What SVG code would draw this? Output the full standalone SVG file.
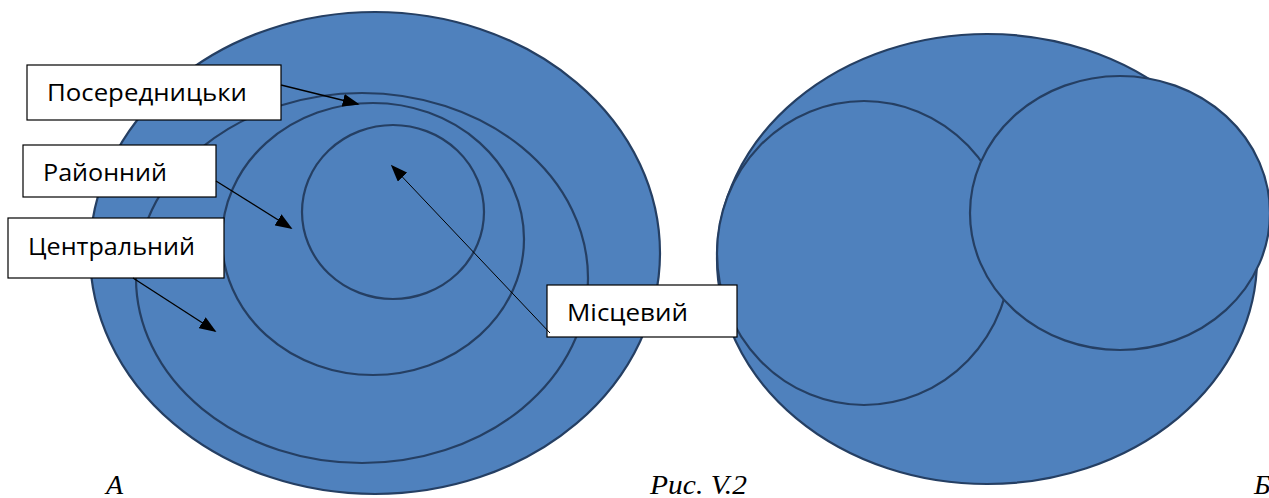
<svg xmlns="http://www.w3.org/2000/svg" width="1269" height="498" viewBox="0 0 1269 498">
<style>
.e{fill:#4f81bd;stroke:#253f63;stroke-width:2.2}
.ring{fill:none;stroke:#253f63;stroke-width:2.2}
.box{fill:#ffffff;stroke:#000;stroke-width:1.2}
.lbl{font-family:"Open Sans","Liberation Sans",sans-serif;font-size:24px;fill:#000}
.cap{font-family:"Liberation Serif",serif;font-style:italic;font-size:28px;fill:#000}
.c{stroke:#000;stroke-width:1.3;fill:none}
</style>
<defs>
<marker id="ah2" viewBox="0 0 10 10" refX="9" refY="5" markerWidth="17" markerHeight="13" markerUnits="userSpaceOnUse" orient="auto" preserveAspectRatio="none">
<path d="M0,0 L10,5 L0,10 z" fill="#000"/>
</marker>
</defs>
<g id="diagramA">
<ellipse class="e" cx="375" cy="253" rx="285" ry="241"/>
<ellipse class="ring" cx="362" cy="278" rx="226" ry="185"/>
<ellipse class="ring" cx="373" cy="239" rx="151" ry="136"/>
<ellipse class="ring" cx="393" cy="212" rx="91" ry="87"/>
</g>
<g id="diagramB">
<ellipse class="e" cx="987" cy="259" rx="270" ry="225"/>
<ellipse class="e" cx="864" cy="253" rx="147" ry="152"/>
<ellipse class="e" cx="1120" cy="213" rx="150" ry="137"/>
</g>
<g id="posered">
<rect class="box" x="27" y="65" width="254" height="55"/>
<text class="lbl" x="47" y="101" textLength="200" lengthAdjust="spacingAndGlyphs">Посередницьки</text>
</g>
<g id="raionnyi">
<rect class="box" x="23" y="145" width="193" height="52"/>
<text class="lbl" x="43" y="181" textLength="124" lengthAdjust="spacingAndGlyphs">Районний</text>
</g>
<g id="tsentralnyi">
<rect class="box" x="8" y="218" width="216" height="60"/>
<text class="lbl" x="28" y="255" textLength="167" lengthAdjust="spacingAndGlyphs">Центральний</text>
</g>
<g id="mistsevyi">
<rect class="box" x="547" y="285" width="190" height="52"/>
<text class="lbl" x="567" y="321" textLength="121" lengthAdjust="spacingAndGlyphs">Місцевий</text>
</g>
<g id="connectors">
<line class="c" x1="281" y1="85" x2="358" y2="104" marker-end="url(#ah2)"/>
<line class="c" x1="216" y1="181" x2="291" y2="228" marker-end="url(#ah2)"/>
<line class="c" x1="133" y1="278" x2="215" y2="331" marker-end="url(#ah2)"/>
<line class="c" style="stroke-width:1" x1="550" y1="333" x2="392" y2="166" marker-end="url(#ah2)"/>
</g>
<g id="captions">
<text class="cap" x="106" y="494">А</text>
<text class="cap" x="650" y="494" textLength="97" lengthAdjust="spacingAndGlyphs">Рис. V.2</text>
<text class="cap" x="1254" y="494">Б</text>
</g>
</svg>
